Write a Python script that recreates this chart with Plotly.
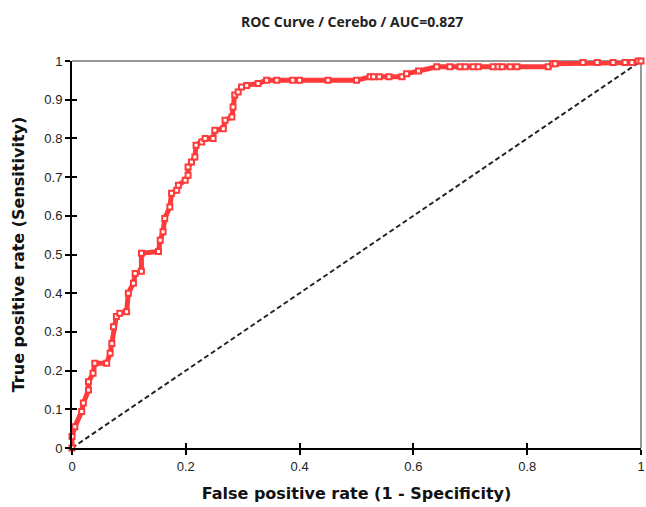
import plotly.graph_objects as go

title_text = "ROC Curve / Cerebo / AUC=0.827"
x_title = "False positive rate (1 - Specificity)"
y_title = "True positive rate (Sensitivity)"

fpr = [0, 0, 0.005, 0.017, 0.02, 0.029, 0.029, 0.037, 0.04, 0.061, 0.067, 0.07, 0.073,
       0.078, 0.084, 0.096, 0.099, 0.108, 0.111, 0.122, 0.122, 0.152, 0.155, 0.16, 0.163,
       0.172, 0.175, 0.184, 0.187, 0.199, 0.204, 0.204, 0.21, 0.216, 0.218, 0.228, 0.234,
       0.248, 0.251, 0.266, 0.269, 0.281, 0.283, 0.286, 0.292, 0.298, 0.307, 0.327, 0.342,
       0.36, 0.388, 0.40, 0.45, 0.50, 0.524, 0.53, 0.54, 0.557, 0.58, 0.588, 0.609, 0.641,
       0.664, 0.682, 0.691, 0.705, 0.714, 0.74, 0.749, 0.756, 0.77, 0.782, 0.837, 0.845,
       0.849, 0.898, 0.923, 0.951, 0.972, 0.984, 0.995, 1.0]
tpr = [0, 0.03, 0.055, 0.094, 0.116, 0.15, 0.171, 0.193, 0.219, 0.219, 0.245, 0.27, 0.313,
       0.34, 0.348, 0.352, 0.40, 0.426, 0.451, 0.457, 0.503, 0.508, 0.537, 0.559, 0.593,
       0.623, 0.658, 0.666, 0.679, 0.692, 0.705, 0.726, 0.739, 0.752, 0.782, 0.791, 0.80,
       0.80, 0.821, 0.825, 0.847, 0.855, 0.881, 0.912, 0.92, 0.933, 0.937, 0.942, 0.95,
       0.95, 0.95, 0.95, 0.95, 0.95, 0.959, 0.959, 0.959, 0.959, 0.959, 0.967, 0.974, 0.985,
       0.985, 0.985, 0.985, 0.985, 0.985, 0.985, 0.985, 0.985, 0.985, 0.985, 0.985, 0.993,
       0.993, 0.996, 0.996, 0.996, 0.996, 0.996, 1.0, 1.0]

chance_x = [0, 1]
chance_y = [0, 1]

x_ticks = [0, 0.2, 0.4, 0.6, 0.8, 1]
x_tick_labels = ["0", "0.2", "0.4", "0.6", "0.8", "1"]
y_ticks = [0, 0.1, 0.2, 0.3, 0.4, 0.5, 0.6, 0.7, 0.8, 0.9, 1]
y_tick_labels = ["0", "0.1", "0.2", "0.3", "0.4", "0.5", "0.6", "0.7", "0.8", "0.9", "1"]

RED = "#FF3A3A"

fig = go.Figure()
# invisible trace that carries the overlay axes (inner halves of the crossing ticks)
fig.add_trace(go.Scatter(x=[0.5], y=[0.5], xaxis="x2", yaxis="y2", mode="markers",
                         marker=dict(opacity=0), showlegend=False, hoverinfo="skip"))
fig.add_trace(go.Scatter(
    x=chance_x, y=chance_y, mode="lines",
    line=dict(color="#222222", width=2, dash="5px,3px"),
    hoverinfo="skip", showlegend=False, cliponaxis=False))
fig.add_trace(go.Scatter(
    x=fpr, y=tpr, mode="lines+markers",
    line=dict(color=RED, width=5),
    marker=dict(symbol="square", size=5, color="white", line=dict(color=RED, width=2)),
    showlegend=False, cliponaxis=False))

font = "Liberation Sans, Arial, sans-serif"
title_font = "DejaVu Sans, sans-serif"

fig.update_layout(
    width=646, height=507,
    margin=dict(l=72, r=5, t=61, b=59),
    paper_bgcolor="white", plot_bgcolor="white",
    title=dict(text="<b>" + title_text + "</b>", x=0.545, xanchor="center",
               y=0.957, yanchor="middle", automargin=False,
               font=dict(family="Open Sans, sans-serif", size=14, color="#222222")),
    xaxis=dict(range=[0, 1], tickvals=x_ticks, ticktext=x_tick_labels, automargin=False,
               showgrid=False, zeroline=False, showline=True, linecolor="black",
               linewidth=2, ticks="outside", ticklen=5, tickwidth=2, tickcolor="black",
               tickfont=dict(family=font, size=13, color="#222222"),
               title=dict(text="<b>" + x_title + "</b>", standoff=15,
                          font=dict(family=title_font, size=16, color="#111111"))),
    yaxis=dict(range=[0, 1], tickvals=y_ticks, ticktext=y_tick_labels, automargin=False,
               showgrid=False, zeroline=False, showline=True, linecolor="black",
               linewidth=2, ticks="outside", ticklen=5, tickwidth=2, tickcolor="black",
               tickfont=dict(family=font, size=13, color="#222222"),
               title=dict(text="<b>" + y_title + "</b>", standoff=16,
                          font=dict(family=title_font, size=16, color="#111111"))),
    xaxis2=dict(range=[0, 1], tickvals=x_ticks, overlaying="x", anchor="y2", side="bottom",
                showgrid=False, zeroline=False, showline=False, showticklabels=False,
                ticks="inside", ticklen=5, tickwidth=2, tickcolor="black", automargin=False),
    yaxis2=dict(range=[0, 1], tickvals=y_ticks, overlaying="y", anchor="x2", side="left",
                showgrid=False, zeroline=False, showline=False, showticklabels=False,
                ticks="inside", ticklen=5, tickwidth=2, tickcolor="black", automargin=False),
    shapes=[
        dict(type="line", xref="paper", yref="paper", x0=0, x1=1, y0=1, y1=1,
             line=dict(color="#999999", width=2), layer="below"),
        dict(type="line", xref="paper", yref="paper", x0=1, x1=1, y0=0, y1=1,
             line=dict(color="#999999", width=2), layer="below"),
    ],
)

fig.write_html("out.html", config={"displayModeBar": False},
               post_script="document.body.style.margin='0';document.body.style.overflow='hidden';")
